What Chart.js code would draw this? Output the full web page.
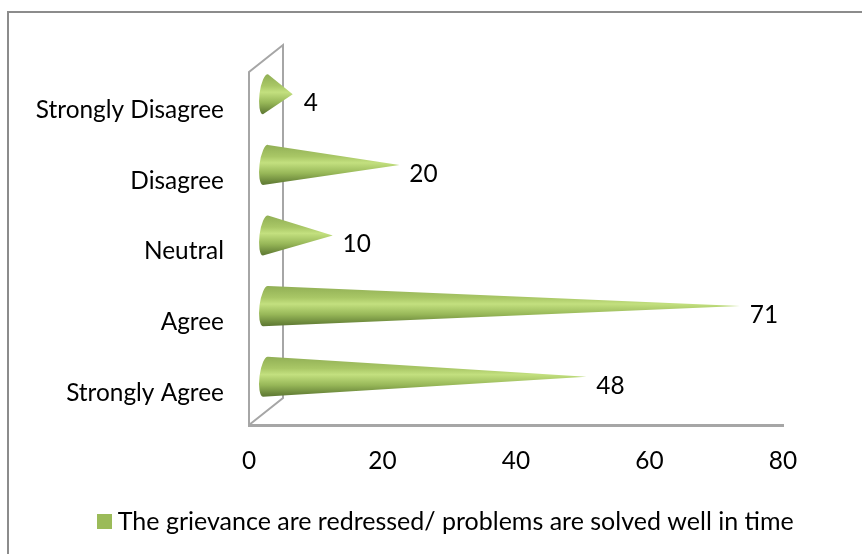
<!DOCTYPE html>
<html><head><meta charset="utf-8">
<style>html,body{margin:0;padding:0;background:#fff}#w{position:relative;width:862px;height:554px}</style>
<script src="https://cdn.jsdelivr.net/npm/chart.js@4/dist/chart.umd.min.js"></script>
</head><body><div id="w"><canvas id="c" width="862" height="554"></canvas></div>
<script>
const categories = ["Strongly Agree","Agree","Neutral","Disagree","Strongly Disagree"];
const seriesName = "The grievance are redressed/ problems are solved well in time";
const seriesValues = [48,71,10,20,4];
const xTicks = [0,20,40,60,80];
const FONT = "Lato, Carlito, sans-serif";
const GREY = "#a6a6a6";
const DEPTH_X = 34, DEPTH_Y = 27;

const swatch = document.createElement("canvas");
swatch.width = 15; swatch.height = 15;
const sctx = swatch.getContext("2d");
sctx.fillStyle = "#9bbb59"; sctx.fillRect(0,0,15,15);

const cones = {
  id:"cones",
  afterLayout(chart){
    chart.legend.left = 0;
    chart.legend.right = 897;
    chart.legend.adjustHitBoxes();
  },
  beforeDraw(chart){
    const {ctx,width,height}=chart;
    ctx.save();
    ctx.strokeStyle="#8c8c8c"; ctx.lineWidth=2;
    ctx.beginPath();
    ctx.moveTo(8,height);ctx.lineTo(8,12);ctx.lineTo(width,12);
    ctx.stroke();
    ctx.restore();
  },
  beforeDatasetsDraw(chart){
    const {ctx,chartArea:a}=chart;
    ctx.save();
    ctx.strokeStyle=GREY; ctx.lineWidth=2;
    ctx.beginPath();
    ctx.moveTo(a.left,a.bottom);ctx.lineTo(a.left,a.top);
    ctx.lineTo(a.left+DEPTH_X,a.top-DEPTH_Y);ctx.lineTo(a.left+DEPTH_X,a.bottom-DEPTH_Y);
    ctx.lineTo(a.left,a.bottom);
    ctx.stroke();
    ctx.restore();
  },
  afterDatasetsDraw(chart){
    const {ctx,scales}=chart;
    const meta=chart.getDatasetMeta(0);
    const x0=scales.x.getPixelForValue(0);
    meta.data.forEach((bar,i)=>{
      const cy=bar.y-13;
      const tipX=bar.x+17, baseX=x0+16.5;
      const topPt=[baseX+2.5,cy-20];
      ctx.save();
      const g=ctx.createLinearGradient(0,cy-21,0,cy+21);
      g.addColorStop(0,"#8fad54");g.addColorStop(0.3,"#a9c766");g.addColorStop(0.45,"#c3e07f");
      g.addColorStop(0.7,"#97b758");g.addColorStop(0.9,"#6b873b");g.addColorStop(1,"#5a7431");
      ctx.fillStyle=g;
      ctx.beginPath();
      ctx.moveTo(tipX,cy);
      ctx.lineTo(topPt[0],topPt[1]);
      ctx.ellipse(baseX,cy,20.2,6,Math.PI/2+0.125,Math.PI,0,true);
      ctx.closePath();ctx.fill();
      ctx.restore();
      ctx.save();
      ctx.fillStyle="#000";ctx.font="24.4px "+FONT;ctx.textAlign="center";ctx.textBaseline="middle";
      const txt=String(seriesValues[i]);
      ctx.fillText(txt,tipX+(txt.length>1?24:18),cy+9);
      ctx.restore();
    });
  }
};

new Chart(document.getElementById("c"),{
  type:"bar",
  data:{labels:categories,datasets:[{label:seriesName,data:seriesValues,backgroundColor:"rgba(0,0,0,0)",borderWidth:0,barPercentage:0.57,categoryPercentage:1}]},
  plugins:[cones],
  options:{
    indexAxis:"y",responsive:false,animation:false,
    layout:{padding:{left:12,right:79,top:72,bottom:10}},
    scales:{
      x:{min:0,max:80,afterBuildTicks(s){s.ticks=xTicks.map(v=>({value:v}));},
         grid:{display:false,drawTicks:false},border:{color:GREY,width:3},
         ticks:{color:"#000",font:{family:FONT,size:24.4},padding:22,maxRotation:0},
         afterFit(s){s.height=70;}},
      y:{reverse:true,grid:{display:false,drawTicks:false},border:{display:false},
         ticks:{color:"#000",font:{family:FONT,size:24.4},padding:25,labelOffset:3},
         afterFit(s){s.width=237;}}
    },
    plugins:{
      tooltip:{enabled:false},
      legend:{position:"bottom",labels:{color:"#000",font:{family:FONT,size:25},boxWidth:2,boxHeight:15,padding:14,usePointStyle:true,
        generateLabels(){return [{text:seriesName,fillStyle:"#9bbb59",strokeStyle:"#9bbb59",lineWidth:0,datasetIndex:0,pointStyle:swatch}];}}}
    }
  }
});
</script></body></html>
